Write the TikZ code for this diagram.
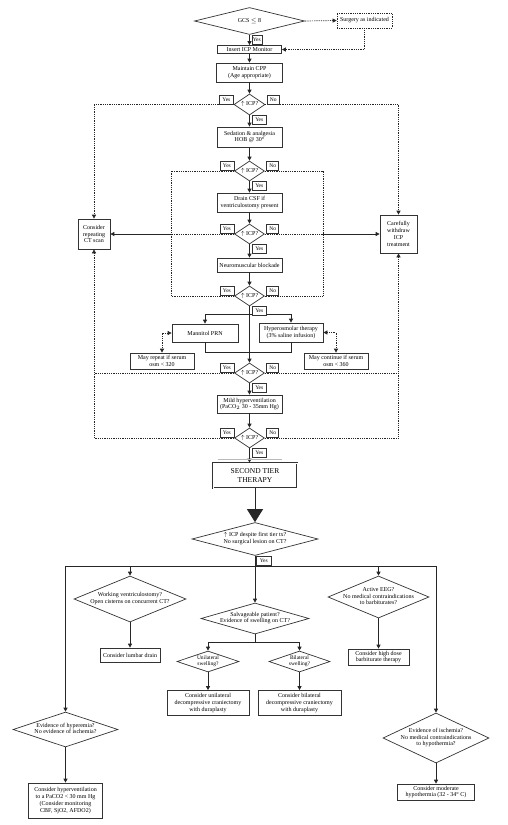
\documentclass[tikz,border=0pt]{standalone}
\usepackage{fontspec}
\setmainfont{Liberation Serif}
\usetikzlibrary{shapes.geometric, arrows.meta, calc, positioning}

% text inside a diamond, centred and not widening the shape
\newcommand{\dtxt}[1]{\smash{\raisebox{-0.2em}{\makebox[0pt]{\begin{tabular}{@{}c@{}}#1\end{tabular}}}}}

\begin{document}
\begin{tikzpicture}[
    x=1pt, y=-1pt,
    >={Triangle[length=4pt,width=4pt]},
    sz/.style 2 args={minimum width=#1pt, minimum height=#2pt},
    box/.style={rectangle, draw=black!80, line width=0.7pt, align=center, inner sep=1pt, fill=white, font=\fontsize{6}{6.8}\selectfont},
    decision/.style={diamond, draw=black!80, line width=0.7pt, inner sep=0pt, fill=white, font=\fontsize{6}{6.8}\selectfont},
    tag/.style={rectangle, draw=black!80, line width=0.6pt, inner sep=0.5pt, minimum width=12pt, minimum height=9pt, fill=white, font=\fontsize{5.5}{6}\selectfont},
    wire/.style={line width=0.8pt, draw=black!85},
    link/.style={wire, ->},
    dotline/.style={line width=0.7pt, draw=black!85, dash pattern=on 0.9pt off 0.9pt}
]
\useasboundingbox (0,0) rectangle (507,825);

% First tier
\node[decision, sz={110}{27}] (gcs) at (249.5,21) {\dtxt{GCS $\leq$ 8}};
\node[box, dotline, sz={55}{15}] (surgery) at (364.5,20.5) {Surgery as indicated};
\node[box, sz={64}{8}, inner sep=0.5pt] (insert) at (249.5,49.5) {Insert ICP Monitor};
\node[box, sz={66}{19}] (cpp) at (249.5,72.5) {Maintain CPP\\(Age appropriate)};
\node[decision, sz={31}{21}] (icp1) at (249.5,104.5) {\dtxt{$\uparrow$ ICP?}};
\node[box, sz={65}{20}] (sed) at (249.5,137) {Sedation \& analgesia\\HOB @ 30°};
\node[decision, sz={30}{20}] (icp2) at (249.5,171) {\dtxt{$\uparrow$ ICP?}};
\node[box, sz={65}{19}] (drain) at (249.5,202.5) {Drain CSF if\\ventriculostomy present};
\node[decision, sz={30}{20}] (icp3) at (249.5,234) {\dtxt{$\uparrow$ ICP?}};
\node[box, sz={32}{30}] (ct) at (94,234) {Consider\\repeating\\CT scan};
\node[box, sz={37}{38}] (withdraw) at (398.5,234) {Carefully\\withdraw\\ICP\\treatment};
\node[box, sz={65}{14}] (nmb) at (249.5,265) {Neuromuscular blockade};
\node[decision, sz={30}{20}] (icp4) at (249.5,296) {\dtxt{$\uparrow$ ICP?}};
\node[box, sz={66}{18}] (mannitol) at (205,333) {Mannitol PRN};
\node[box, sz={64}{19}] (hyperosm) at (291,332.5) {Hyperosmolar therapy\\(3\% saline infusion)};
\node[box, sz={64}{16}] (repeat) at (162,361) {May repeat if serum\\osm < 320};
\node[box, sz={64}{16}] (continue) at (336,361) {May continue if serum\\osm < 360};
\node[decision, sz={30}{20}] (icp5) at (249.5,373) {\dtxt{$\uparrow$ ICP?}};
\node[box, sz={65}{18}] (mildhv) at (249.5,404) {Mild hyperventilation\\(PaCO$_2$ 30 - 35mm Hg)};
\node[decision, sz={30}{20}] (icp6) at (249.5,438) {\dtxt{$\uparrow$ ICP?}};

% Second tier
\node[box, double, double distance=0.8pt, sz={84}{25}, font=\fontsize{7.5}{8.5}\selectfont] (tier) at (255,475.5) {SECOND TIER\\THERAPY};
\node[decision, sz={126}{33}] (despite) at (255,539) {\dtxt{$\uparrow$ ICP despite first tier tx?\\No surgical lesion on CT?}};
\node[decision, sz={112}{46}] (ventric) at (130,599) {\dtxt{Working ventriculostomy?\\Open cisterns on concurrent CT?}};
\node[box, sz={60}{14}] (lumbar) at (130,655) {Consider lumbar drain};
\node[decision, sz={108}{31}] (salvage) at (255,618.5) {\dtxt{Salvageable patient?\\Evidence of swelling on CT?}};
\node[decision, sz={62}{21}, font=\fontsize{5.5}{5.9}\selectfont] (unilat) at (208,661.5) {\dtxt{Unilateral\\swelling?}};
\node[decision, sz={61}{21}, font=\fontsize{5.5}{5.9}\selectfont] (bilat) at (299.5,661.5) {\dtxt{Bilateral\\swelling?}};
\node[box, sz={82}{25}] (unicran) at (208,703) {Consider unilateral\\decompressive craniectomy\\with duraplasty};
\node[box, sz={83}{25}] (bicran) at (299.5,703) {Consider bilateral\\decompressive craniectomy\\with duraplasty};
\node[decision, sz={101}{42}] (eeg) at (378.5,597) {\dtxt{Active EEG?\\No medical contraindications\\to barbiturates?}};
\node[box, sz={61}{16}] (barb) at (378.5,657) {Consider high dose\\barbiturate therapy};
\node[decision, sz={105}{35}] (hyperemia) at (65.5,729.5) {\dtxt{Evidence of hyperemia?\\No evidence of ischemia?}};
\node[box, sz={74}{35}] (hvent) at (65.5,800.5) {Consider hyperventilation\\to a PaCO2 < 30 mm Hg\\(Consider monitoring\\CBF, SjO2, AFDO2)};
\node[decision, sz={106}{50}] (ischemia) at (436,738) {\dtxt{Evidence of ischemia?\\No medical contraindications\\to hypothermia?}};
\node[box, sz={77}{16}] (hypotherm) at (436,792) {Consider moderate\\hypothermia (32 - 34° C)};

% Main column
\foreach \a/\b in {gcs/insert, insert/cpp, cpp/icp1, icp1/sed, sed/icp2, icp2/drain, drain/icp3, icp3/nmb, nmb/icp4, icp5/mildhv, mildhv/icp6}
    \draw[link] (\a) -- (\b);
\draw[dotline, ->] (gcs.east) -- (surgery.west);
\draw[dotline, ->] (surgery.south) |- (insert.east);

% Osmotic therapy
\coordinate (split) at (249.5,314);
\draw[wire] (icp4.south) -- (split);
\draw[link] (split) -| (mannitol.north);
\draw[link] (split) -| (hyperosm.north);
\draw[link] (split) -- (icp5.north);
\draw[wire] (mannitol.south) -- ++(0,10) -| (hyperosm.south);
\draw[dotline, <->] (mannitol.west) -| (repeat.north);
\draw[dotline, <->] (hyperosm.east) -| (continue.north);

% Feedback to CT scan / withdrawal
\coordinate (innerL) at (171,296);
\coordinate (innerR) at (323,296);
\draw[dotline, ->] (icp1.west) -| (ct.north);
\draw[dotline, ->] (icp1.east) -| (withdraw.north);
\draw[dotline] (icp2.west) -| (innerL) -- (icp4.west);
\draw[dotline] (icp2.east) -| (innerR) -- (icp4.east);
\draw[dotline] (icp3.west) -- (icp3.west -| innerL);
\draw[link] (icp3.west -| innerL) -- (ct.east);
\draw[dotline] (icp3.east) -- (icp3.east -| innerR);
\draw[link] (icp3.east -| innerR) -- (withdraw.west);
\draw[dotline, ->] (icp5.west) -| (ct.south);
\draw[dotline, ->] (icp5.east) -| (withdraw.south);
\draw[dotline] (icp6.west) -| (ct.south |- icp5.west);
\draw[dotline] (icp6.east) -| (withdraw.south |- icp5.east);

% Into second tier
\draw[link] (icp6.south) -- (icp6.south |- tier.north);
\draw[gray!55, line width=1pt] (218,459) -- (282,459);
\draw[wire, -{Triangle[length=13pt,width=16pt]}] (tier.south) -- (despite.north);
\draw[link] (despite.south) -- (salvage.north);
\coordinate (fanL) at (65.5,566);
\coordinate (fanR) at (436,566);
\draw[wire] (fanL) -- (fanR);
\draw[link] (fanL) -- (hyperemia.north);
\draw[link] (fanR) -- (ischemia.north);
\draw[link] (ventric.north |- fanL) -- (ventric.north);
\draw[link] (eeg.north |- fanL) -- (eeg.north);
\draw[link] (ventric) -- (lumbar);
\draw[link] (eeg) -- (barb);
\coordinate (swell) at (255,642);
\draw[wire] (salvage.south) -- (swell);
\draw[link] (swell) -| (unilat.north);
\draw[link] (swell) -| (bilat.north);
\draw[link] (unilat) -- (unicran);
\draw[link] (bilat) -- (bicran);
\draw[link] (hyperemia) -- (hvent);
\draw[link] (ischemia) -- (hypotherm);

% Yes / No tags
\node[tag, minimum width=10pt, anchor=north west] (gcs-yes) at ([xshift=2pt]gcs.south) {Yes};
\foreach \d in {icp1,icp2,icp3,icp4,icp5,icp6} {
    \node[tag, minimum width=14pt, anchor=south east] (\d-yes) at (\d.west) {Yes};
    \node[tag, anchor=south west] (\d-no) at ([xshift=1.5pt]\d.east) {No};
    \node[tag, minimum width=14pt, anchor=north west] (\d-go) at ([xshift=2.5pt]\d.south) {Yes};
}
\node[tag, minimum width=15pt, anchor=north west] (despite-yes) at ([xshift=1pt]despite.south) {Yes};

\end{tikzpicture}
\end{document}
